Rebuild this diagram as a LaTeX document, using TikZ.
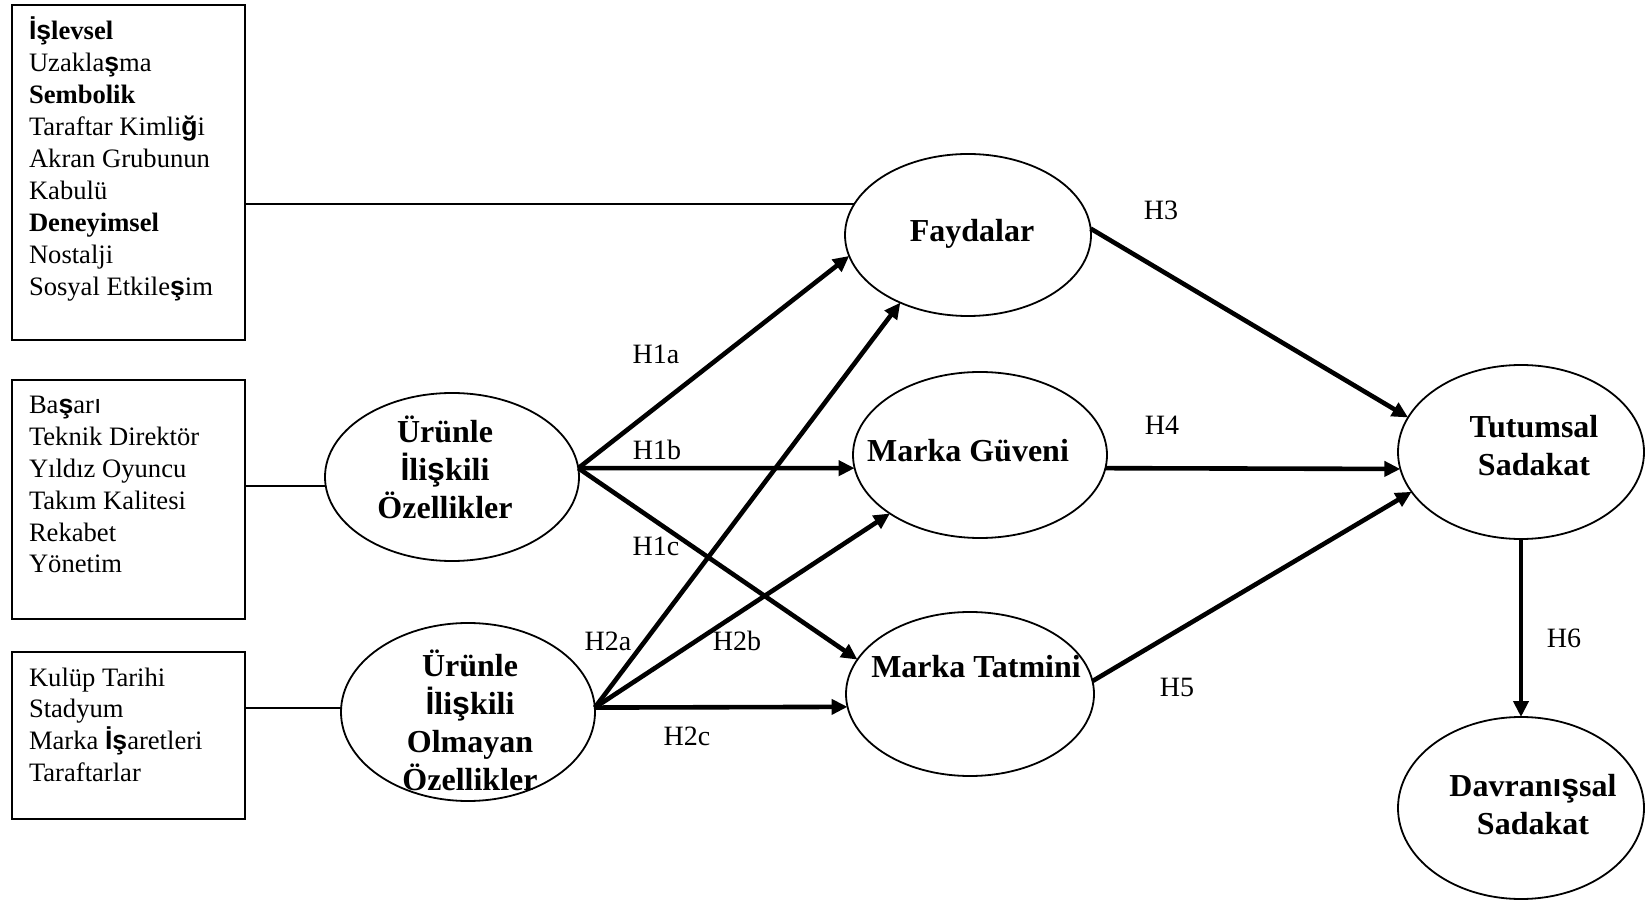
\documentclass[tikz,border=0pt]{standalone}
\usepackage{fontspec}
\setmainfont{Liberation Serif}
\newfontfamily\altsans{Liberation Sans}
\newcommand\altb[1]{{\altsans\bfseries #1}}
\newcommand\altr[1]{{\altsans #1}}
\usetikzlibrary{arrows.meta,shapes.geometric}
\begin{document}
\begin{tikzpicture}[x=0.5pt,y=-0.5pt,
  every node/.style={inner sep=0pt,outer sep=0pt},
  construct/.style={draw,ellipse,line width=0.9pt},
  itembox/.style={draw,line width=1pt,anchor=north west,minimum width=116.5pt},
  item/.style={anchor=base west,font=\fontsize{13.3}{16}\selectfont},
  latent/.style={align=center,font=\fontsize{16}{19}\selectfont\bfseries},
  hyp/.style={font=\fontsize{14}{16}\selectfont},
  link/.style={line width=1pt},
  effect/.style={line width=2.3pt,-{Triangle[length=8pt,width=7.5pt]}}
]
\useasboundingbox (0,0) rectangle (1645,903);

% indicator boxes
\node[itembox,minimum height=167.5pt] (b1) at (12,5) {};
\node[itembox,minimum height=119.5pt] (b2) at (12,380) {};
\node[itembox,minimum height=83.5pt] (b3) at (12,652) {};

\foreach [count=\i] \t in {\textbf{\altb{İş}levsel},Uzakla\altb{ş}ma,\textbf{Sembolik},Taraftar Kimli\altb{ğ}i,Akran Grubunun,Kabulü,\textbf{Deneyimsel},Nostalji,Sosyal Etkile\altb{ş}im}
  \node[item] (b1t\i) at (29,{40+32*(\i-1)}) {\t};

\foreach [count=\i] \t in {Ba\altb{ş}ar\altr{ı},Teknik Direktör,Yıldız Oyuncu,Takım Kalitesi,Rekabet,Yönetim}
  \node[item] (b2t\i) at (29,{414+31.8*(\i-1)}) {\t};

\foreach [count=\i] \t in {Kulüp Tarihi,Stadyum,Marka \altb{İş}aretleri,Taraftarlar}
  \node[item] (b3t\i) at (29,{686+31.9*(\i-1)}) {\t};

% constructs
\node[construct,minimum width=123pt,minimum height=81pt] (fay) at (968,235) {};
\node[construct,minimum width=127pt,minimum height=83pt] (gu) at (980,455) {};
\node[construct,minimum width=124pt,minimum height=82pt] (tat) at (970,694) {};
\node[construct,minimum width=123pt,minimum height=87pt] (tut) at (1521,452) {};
\node[construct,minimum width=123pt,minimum height=91pt] (dav) at (1521,808) {};
\node[construct,minimum width=127pt,minimum height=84pt] (u1) at (452,477) {};
\node[construct,minimum width=127pt,minimum height=89pt] (u2) at (468,712) {};

\node[latent] (fayt) at (972,234) {Faydalar};
\node[latent] (gut) at (968,451) {Marka Güveni};
\node[latent] (tatt) at (976,667) {Marka Tatmini};
\node[latent] (tutt) at (1534,446) {Tutumsal\\Sadakat};
\node[latent] (davt) at (1533,805) {Davran\altb{ış}sal\\Sadakat};
\node[latent] (u1t) at (445,467) {Ürünle\\\altb{İ}li\altb{ş}kili\\Özellikler};
\node[latent] (u2t) at (470,720) {Ürünle\\\altb{İ}li\altb{ş}kili\\Olmayan\\Özellikler};

% box links
\draw[link] (b1.east |- fay.165) -- (fay.165);
\draw[link] (b2.east |- u1.184) -- (u1.184);
\draw[link] (b3.east |- u2.178) -- (u2.178);

% hypothesised paths
\draw[effect] (u1.4) -- (fay.190);
\draw[effect] (u1.4) -- (gu.186);
\draw[effect] (u1.4) -- (tat.163);
\draw[effect] (u2.2) -- (fay.225);
\draw[effect] (u2.2) -- (gu.213);
\draw[effect] (u2.2) -- (tat.186);
\draw[effect] (fay.3) -- (tut.163);
\draw[effect] (gu.354) -- (tut.188);
\draw[effect] (tat.6) -- (tut.200);
\draw[effect] (tut.south) -- (dav.north);

% path labels
\node[hyp] (h1a) at (656,354) {H1a};
\node[hyp] (h1b) at (657,450) {H1b};
\node[hyp] (h1c) at (656,546) {H1c};
\node[hyp] (h2a) at (608,641) {H2a};
\node[hyp] (h2b) at (737,641) {H2b};
\node[hyp] (h2c) at (687,736) {H2c};
\node[hyp] (h3) at (1161,210) {H3};
\node[hyp] (h4) at (1162,425) {H4};
\node[hyp] (h5) at (1177,687) {H5};
\node[hyp] (h6) at (1564,638) {H6};
\end{tikzpicture}
\end{document}
